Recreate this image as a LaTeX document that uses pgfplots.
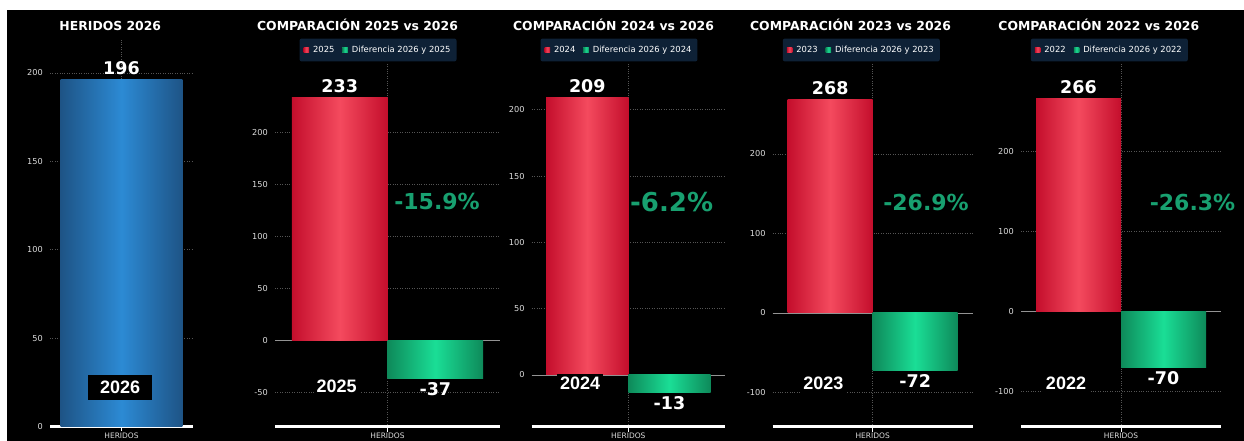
\documentclass[border=0pt]{standalone}
\usepackage{pgfplots}
\pgfplotsset{compat=1.18}
\usepackage{fontspec}
\setmainfont{DejaVu Sans}
\newfontfamily\arialfont{Liberation Sans}
\definecolor{redDark}{RGB}{196,14,44}
\definecolor{redLight}{RGB}{244,74,94}
\definecolor{greenDark}{RGB}{14,138,90}
\definecolor{greenLight}{RGB}{26,222,150}
\definecolor{blueDark}{RGB}{30,84,134}
\definecolor{blueLight}{RGB}{44,138,212}
\definecolor{redSw}{RGB}{232,40,62}
\definecolor{greenSw}{RGB}{20,190,120}
\definecolor{pctGreen}{RGB}{24,160,112}
\definecolor{legBg}{RGB}{14,33,54}
\definecolor{tickGray}{RGB}{220,220,220}
\definecolor{gridGray}{RGB}{85,85,85}

\tikzset{
  yearlbl/.style={font=\arialfont\bfseries\fontsize{18}{18}\selectfont, text=white, fill=black, inner sep=3pt},
  pct/.style={font=\bfseries\fontsize{22}{22}\selectfont, text=pctGreen},
}
\pgfplotsset{
  panel/.style={
    scale only axis,
    anchor=south west,
    xmin=-0.5, xmax=0.5,
    xtick={0}, xticklabels={HERIDOS},
    axis x line=bottom,
    axis y line=left,
    x axis line style={white, line width=2.5pt, -},
    y axis line style={draw=none},
    clip=false,
    grid=major,
    major grid style={dotted, gridGray, line width=0.6pt},
    ytick style={draw=none},
    xtick style={white, line width=1pt},
    tick align=outside,
    major tick length=5pt,
    yticklabel style={font=\fontsize{8.2}{9}\selectfont, text=tickGray, inner sep=2pt},
    xticklabel style={font=\fontsize{7.5}{8}\selectfont, text=tickGray, inner sep=1pt},
    /pgf/number format/assume math mode=true,
    point meta=explicit symbolic,
    legend columns=2,
    legend cell align=left,
    legend style={draw=none, fill=legBg, text=white,
      font=\fontsize{8.4}{9}\selectfont, rounded corners=2pt,
      inner xsep=4pt, inner ysep=5.5pt, anchor=center,
      /tikz/every odd column/.append style={column sep=2pt},
      /tikz/every even column/.append style={column sep=6pt}},
  },
  zeroline/.style={extra y ticks={0}, extra y tick labels={},
    extra y tick style={major grid style={solid, gray!85, line width=0.8pt}}},
  valnode/.style={nodes near coords,
    every node near coord/.append style={font=\fontsize{17.5}{18}\selectfont\bfseries, text=white}},
  redbar/.style={ybar, bar width=0.425, bar shift=0, draw=none,
    left color=redDark, right color=redDark, middle color=redLight, valnode,
    every node near coord/.append style={anchor=south, inner sep=5pt},
    legend image code/.code={\fill[redSw, sharp corners] (0pt,-2.75pt) rectangle (5.5pt,2.75pt);}},
  greenbar/.style={ybar, bar width=0.425, bar shift=0, draw=none,
    left color=greenDark, right color=greenDark, middle color=greenLight, valnode,
    every node near coord/.append style={anchor=north, inner sep=4pt},
    legend image code/.code={\fill[greenSw, sharp corners] (0pt,-2.75pt) rectangle (5.5pt,2.75pt);}},
}

\begin{document}
\begin{tikzpicture}
\path[use as bounding box] (0pt,0pt) rectangle (1244pt,441pt);
\fill[white] (0pt,0pt) rectangle (1244pt,441pt);
\fill[black] (7pt,0pt) rectangle (1244pt,431pt);

% titles
\begin{scope}[every node/.style={font=\bfseries\fontsize{12.4}{13}\selectfont, text=white, anchor=base}]
\node at (110.3pt,410pt) {HERIDOS 2026};
\node at (357.5pt,410pt) {COMPARACIÓN 2025 vs 2026};
\node at (613.5pt,410pt) {COMPARACIÓN 2024 vs 2026};
\node at (850.5pt,410pt) {COMPARACIÓN 2023 vs 2026};
\node at (1098.8pt,410pt) {COMPARACIÓN 2022 vs 2026};
\end{scope}

% Panel 1
\begin{axis}[panel, at={(50pt,14.5pt)}, width=143pt, height=386.5pt,
  ymin=0, ymax=218.6, ytick={0,50,...,200}]
\addplot[ybar, bar width=0.85, bar shift=0, draw=none,
  left color=blueDark, right color=blueDark, middle color=blueLight, valnode,
  every node near coord/.append style={anchor=south, inner sep=5pt}]
  coordinates {(0,196) [196]};
\node[yearlbl, minimum width=64pt, minimum height=25pt, inner sep=0pt] at (axis cs:-0.01,22.3) {2026};
\end{axis}

% Panel 2
\begin{axis}[panel, zeroline, at={(275pt,14.3pt)}, width=225pt, height=363.4pt,
  ymin=-83, ymax=266, ytick={-50,0,...,200},
  legend style={at={(axis description cs:0.458,1.0366)}}]
\addplot[redbar] coordinates {(-0.2125,233) [233]};
\addlegendentry{2025}
\addplot[greenbar] coordinates {(0.2125,-37) [-37]};
\addlegendentry{Diferencia 2026 y 2025}
\node[yearlbl] at (axis cs:-0.226,-44.6) {2025};
\node[pct] at (axis cs:0.22,132.9) {-15.9\%};
\end{axis}

% Panel 3
\begin{axis}[panel, zeroline, at={(531.7pt,14.3pt)}, width=193.3pt, height=363.4pt,
  ymin=-39, ymax=235, ytick={0,50,...,200},
  legend style={at={(axis description cs:0.4516,1.0366)}}]
\addplot[redbar] coordinates {(-0.2125,209) [209]};
\addlegendentry{2024}
\addplot[greenbar] coordinates {(0.2125,-13) [-13]};
\addlegendentry{Diferencia 2026 y 2024}
\node[yearlbl] at (axis cs:-0.25,-6.3) {2024};
\node[pct, font=\bfseries\fontsize{26}{26}\selectfont] at (axis cs:0.224,130.5) {-6.2\%};
\end{axis}

% Panel 4
\begin{axis}[panel, zeroline, at={(772.7pt,14.3pt)}, width=200pt, height=363.4pt,
  ymin=-143, ymax=314, ytick={-100,0,100,200},
  legend style={at={(axis description cs:0.443,1.0366)}}]
\addplot[redbar] coordinates {(-0.2125,268) [268]};
\addlegendentry{2023}
\addplot[greenbar] coordinates {(0.2125,-72) [-72]};
\addlegendentry{Diferencia 2026 y 2023}
\node[yearlbl] at (axis cs:-0.247,-88.8) {2023};
\node[pct] at (axis cs:0.2665,139.2) {-26.9\%};
\end{axis}

% Panel 5
\begin{axis}[panel, zeroline, at={(1021pt,14.3pt)}, width=200pt, height=363.4pt,
  ymin=-143.7, ymax=310.5, ytick={-100,0,100,200},
  legend style={at={(axis description cs:0.4417,1.0366)}}]
\addplot[redbar] coordinates {(-0.2125,266) [266]};
\addlegendentry{2022}
\addplot[greenbar] coordinates {(0.2125,-70) [-70]};
\addlegendentry{Diferencia 2026 y 2022}
\node[yearlbl] at (axis cs:-0.275,-89.5) {2022};
\node[pct] at (axis cs:0.3575,137.1) {-26.3\%};
\end{axis}
\end{tikzpicture}
\end{document}
